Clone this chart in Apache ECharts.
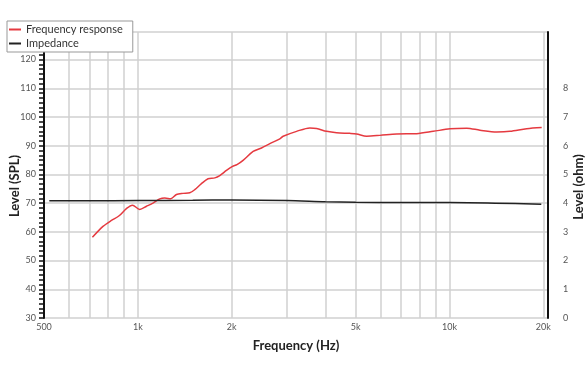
<!DOCTYPE html>
<html>
<head>
<meta charset="utf-8">
<script src="https://cdn.jsdelivr.net/npm/echarts@6/dist/echarts.min.js"></script>
<style>html,body{margin:0;padding:0;background:#fff}#c{width:588px;height:372px}</style>
</head>
<body>
<div id="c"></div>
<script>
// ---- data ----
var freqFR = [715, 773, 823, 871, 919, 961, 1014, 1066, 1122, 1176, 1220, 1275, 1330, 1397, 1468, 1523, 1600, 1680, 1766, 1832, 1925, 2013, 2080, 2176, 2344, 2493, 2652, 2855, 2926, 3231, 3564, 3745, 4034, 4342, 4792, 5034, 5421, 5980, 6765, 7843, 8869, 10034, 11350, 12525, 14170, 15630, 17680, 19760];
var splFR = [58.1, 61.9, 64.0, 65.6, 68.1, 69.3, 67.8, 68.9, 70.1, 71.5, 71.8, 71.5, 73.0, 73.4, 73.6, 74.7, 76.8, 78.5, 78.8, 79.6, 81.4, 82.8, 83.4, 84.9, 88.0, 89.2, 90.7, 92.4, 93.3, 95.0, 96.2, 96.0, 95.0, 94.5, 94.3, 94.1, 93.3, 93.6, 94.1, 94.2, 95.0, 95.9, 96.1, 95.4, 94.8, 95.0, 95.9, 96.3];
var freqZ = [520, 700, 1000, 1500, 2000, 3000, 4000, 5000, 7000, 10000, 14000, 19700];
var ohmZ = [4.08, 4.08, 4.09, 4.10, 4.11, 4.09, 4.05, 4.03, 4.02, 4.02, 4.00, 3.96];
var xGridTicks = [500, 600, 700, 800, 900, 1000, 2000, 3000, 4000, 5000, 6000, 7000, 8000, 9000, 10000, 20000];
var xLabelTicks = [500, 1000, 2000, 5000, 10000, 20000];
var xLabelText = ['500', '1k', '2k', '5k', '10k', '20k'];
var rightTicks = [0, 1, 2, 3, 4, 5, 6, 7, 8];
var seriesNames = ['Frequency response', 'Impedance'];

function pairs(xs, ys) { return xs.map(function (x, i) { return [x, ys[i]]; }); }

var chart = echarts.init(document.getElementById('c'), null, { renderer: 'canvas' });
var font = 'Lato, "Open Sans", sans-serif';
chart.setOption({
  animation: false,
  textStyle: { fontFamily: font },
  grid: { left: 44, right: 40, top: 32, bottom: 54, containLabel: false, outerBoundsMode: 'none' },
  legend: {
    orient: 'vertical', left: 7, top: 21,
    backgroundColor: '#fff', borderColor: '#999', borderWidth: 1,
    padding: [3, 10, 3, 2], itemGap: 3,
    icon: 'rect', itemWidth: 12, itemHeight: 2,
    textStyle: { fontSize: 11, color: '#333', fontFamily: font },
    data: seriesNames
  },
  xAxis: {
    type: 'log', logBase: 10, min: 500, max: 20700,
    name: 'Frequency (Hz)', nameLocation: 'middle', nameGap: 21, nameMoveOverlap: false,
    nameTextStyle: { fontSize: 13, fontWeight: 'bold', color: '#222', fontFamily: font },
    axisLine: { show: false },
    axisTick: { show: false, customValues: xGridTicks },
    axisLabel: {
      customValues: xLabelTicks, fontSize: 9, color: '#555', margin: 5,
      formatter: function (v) { var i = xLabelTicks.indexOf(Math.round(v)); return i >= 0 ? xLabelText[i] : ''; }
    },
    splitLine: { show: true, lineStyle: { color: '#d0d0d0', width: 1.5 } }
  },
  yAxis: [{
    type: 'value', min: 30, max: 129.6, interval: 10, position: 'left',
    name: 'Level (SPL)', nameLocation: 'middle', nameGap: 23, nameMoveOverlap: false,
    nameTextStyle: { fontSize: 13, fontWeight: 'bold', color: '#222', fontFamily: font, padding: [0, 22, 0, 0] },
    axisLine: { show: true, lineStyle: { color: '#111', width: 2 } },
    axisTick: { show: true, length: 5, lineStyle: { color: '#111', width: 1.5 } },
    minorTick: { show: true, splitNumber: 6, length: 5, lineStyle: { color: '#111', width: 1.5 } },
    axisLabel: { fontSize: 9, color: '#555', margin: 8, showMaxLabel: false },
    splitLine: { show: true, lineStyle: { color: '#d0d0d0', width: 1.5 } }
  }, {
    type: 'value', min: 0, max: 9.96, interval: 1, position: 'right',
    name: 'Level (ohm)', nameLocation: 'middle', nameGap: 24, nameMoveOverlap: false,
    nameTextStyle: { fontSize: 13, fontWeight: 'bold', color: '#222', fontFamily: font, padding: [0, 24, 0, 0] },
    axisLine: { show: true, lineStyle: { color: '#111', width: 2 } },
    axisTick: { show: false },
    axisLabel: {
      fontSize: 9, color: '#555', margin: 15, showMaxLabel: false,
      formatter: function (v) { return rightTicks.indexOf(Math.round(v * 100) / 100) >= 0 ? String(v) : ''; }
    },
    splitLine: { show: false }
  }],
  series: [{
    name: seriesNames[0], type: 'line', yAxisIndex: 0, smooth: 0.3, symbol: 'none',
    lineStyle: { color: '#e53a40', width: 1.5 }, itemStyle: { color: '#e53a40' },
    data: pairs(freqFR, splFR)
  }, {
    name: seriesNames[1], type: 'line', yAxisIndex: 1, smooth: 0.3, symbol: 'none',
    lineStyle: { color: '#222', width: 1.5 }, itemStyle: { color: '#222' },
    data: pairs(freqZ, ohmZ)
  }]
});
</script>
</body>
</html>
